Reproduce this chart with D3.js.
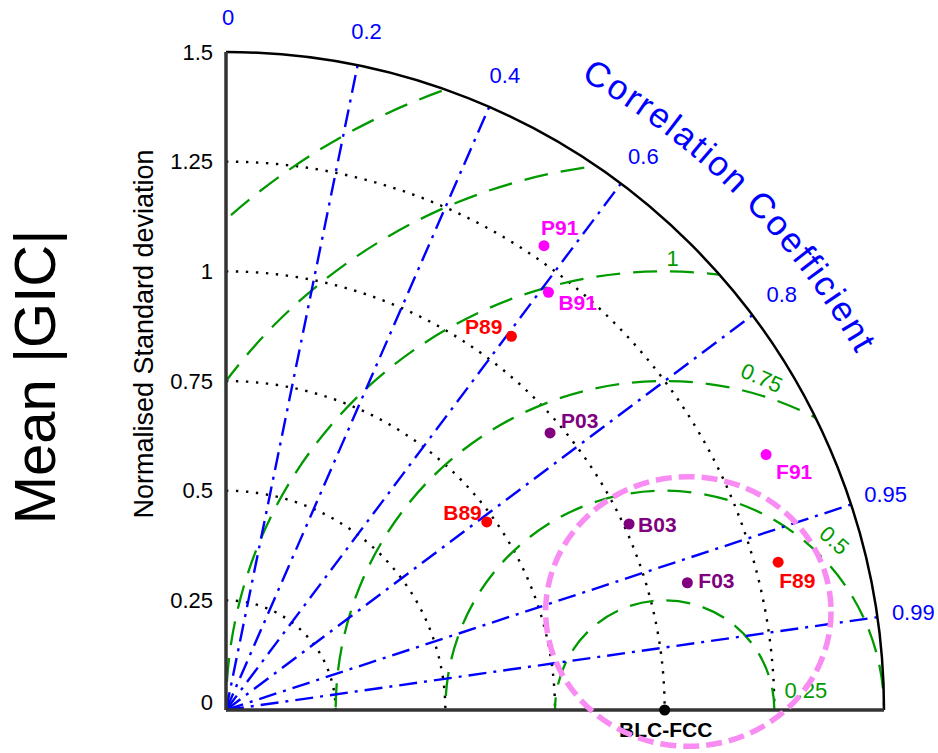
<!DOCTYPE html>
<html>
<head>
<meta charset="utf-8">
<script src="https://cdn.jsdelivr.net/npm/d3@7"></script>
<style>
  body { margin: 0; background: #fff; }
  svg { font-family: "Liberation Sans", Arial, Helvetica, sans-serif; }
</style>
</head>
<body>
<div id="chart"></div>
<script>
// taylor diagram, normalised to the BLC-FCC reference

var models = ["P91", "B91", "P89", "P03", "B03", "F03", "F91", "F89", "B89"];
var years = ["1991", "1991", "1989", "2003", "2003", "2003", "1991", "1989", "1989"];
var stdDev = [1.283, 1.203, 1.072, 0.972, 1.012, 1.091, 1.362, 1.303, 0.733];
var corrCoef = [0.565, 0.611, 0.607, 0.760, 0.908, 0.964, 0.904, 0.966, 0.811];

var refName = "BLC-FCC";
var refStd = 1;

var stdTicks = [0, 0.25, 0.5, 0.75, 1, 1.25, 1.5];
var stdArcs = [0.25, 0.5, 0.75, 1, 1.25];
var corrTicks = [0, 0.2, 0.4, 0.6, 0.8, 0.95, 0.99];
var rmsArcs = [0.25, 0.5, 0.75, 1, 1.25, 1.5];
var rmsLabels = ["0.25", "0.5", "0.75", "1"];

// highlighted region (centre and half-axes in std units)
var highlight = { cx: 1.054, cy: 0.2245, rx: 0.3253, ry: 0.3073 };

var yearColor = { "1989": "#ff0000", "1991": "#ff00ff", "2003": "#800080" };

var width = 938, height = 753;
var ox = 226, oy = 710;

var svg = d3.select("#chart").append("svg")
    .attr("width", width)
    .attr("height", height);

var r = d3.scaleLinear().domain([0, 1.5]).range([0, 658]);
var maxStd = 1.5;

var g = svg.append("g").attr("transform", "translate(" + ox + "," + oy + ")");

//clip for the rms circles
svg.append("defs").append("clipPath").attr("id", "quarter")
    .append("path")
    .attr("d", function() {
        var p = d3.path();
        p.moveTo(0, 0);
        p.lineTo(0, -r(maxStd));
        p.arc(0, 0, r(maxStd), -Math.PI / 2, 0);
        p.closePath();
        return p.toString();
    });

var polar = function polar(s, c) {
    var th = Math.acos(c);
    return [r(s) * Math.cos(th), -r(s) * Math.sin(th)];
};

//std dev dotted arcs
g.selectAll(".stdarc")
    .data(stdArcs)
    .enter().append("path")
    .attr("class", "stdarc")
    .attr("d", function(d) {
        var p = d3.path();
        p.moveTo(0, -r(d));
        p.arc(0, 0, r(d), -Math.PI / 2, 0);
        return p.toString();
    })
    .attr("fill", "none")
    .attr("stroke", "#000")
    .attr("stroke-width", 2.4)
    .attr("stroke-dasharray", "2.4,7.6");

//rms green dashed circles
g.append("g").attr("clip-path", "url(#quarter)")
    .selectAll("circle")
    .data(rmsArcs)
    .enter().append("circle")
    .attr("cx", r(refStd))
    .attr("cy", 0)
    .attr("r", function(d) { return r(d); })
    .attr("fill", "none")
    .attr("stroke", "#009a00")
    .attr("stroke-width", 2.3)
    .attr("stroke-dasharray", "24,13");

//correlation lines
g.selectAll(".corrline")
    .data(corrTicks.filter(function(d) { return d > 0; }))
    .enter().append("line")
    .attr("class", "corrline")
    .attr("x1", 0).attr("y1", 0)
    .attr("x2", function(d) { return polar(maxStd, d)[0]; })
    .attr("y2", function(d) { return polar(maxStd, d)[1]; })
    .attr("stroke", "#0000ff")
    .attr("stroke-width", 2.4)
    .attr("stroke-dasharray", "18,7,3,7");

//outer arc
g.append("path")
    .attr("d", function() {
        var p = d3.path();
        p.moveTo(0, -r(maxStd));
        p.arc(0, 0, r(maxStd), -Math.PI / 2, 0);
        return p.toString();
    })
    .attr("fill", "none")
    .attr("stroke", "#000")
    .attr("stroke-width", 2.5);

//axes
g.append("line").attr("x1", 0).attr("y1", 0).attr("x2", 0).attr("y2", -r(maxStd))
    .attr("stroke", "#333").attr("stroke-width", 3.5);
g.append("line").attr("x1", 0).attr("y1", 0).attr("x2", r(maxStd)).attr("y2", 0)
    .attr("stroke", "#333").attr("stroke-width", 3.5);

//std tick labels
g.selectAll(".stdtick")
    .data(stdTicks)
    .enter().append("text")
    .attr("class", "stdtick")
    .attr("x", -13)
    .attr("y", function(d) { return d == 0 ? -8 : -r(d); })
    .attr("dy", "0.35em")
    .attr("text-anchor", "end")
    .attr("font-size", 22)
    .attr("fill", "#000")
    .text(function(d) { return d3.format("")(d); });

//correlation tick labels
g.selectAll(".corrtick")
    .data(corrTicks)
    .enter().append("text")
    .attr("class", "corrtick")
    .attr("x", function(d) { return polar(maxStd * 1.052, d)[0] + 2; })
    .attr("y", function(d) { return polar(maxStd * 1.052, d)[1]; })
    .attr("dy", "0.35em")
    .attr("text-anchor", "middle")
    .attr("font-size", 22)
    .attr("fill", "#0000ff")
    .text(function(d) { return d; });

//rms labels: angle around the reference point, distance, rotation
var rmsLabelPos = {
    "0.25": { ang: 8, dist: 0.325, rot: 0 },
    "0.5": { ang: 45, dist: 0.547, rot: 42 },
    "0.75": { ang: 73.7, dist: 0.789, rot: 24 },
    "1": { ang: 89, dist: 1.03, rot: 0 }
};
g.selectAll(".rmslabel")
    .data(rmsLabels)
    .enter().append("text")
    .attr("class", "rmslabel")
    .attr("transform", function(d) {
        var p = rmsLabelPos[d], a = p.ang * Math.PI / 180;
        var x = r(refStd + p.dist * Math.cos(a)), y = -r(p.dist * Math.sin(a));
        return "translate(" + x + "," + y + ")rotate(" + p.rot + ")";
    })
    .attr("dy", "0.35em")
    .attr("text-anchor", "middle")
    .attr("font-size", 22)
    .attr("fill", "#009a00")
    .text(function(d) { return d; });

//curved title
svg.append("defs").append("path")
    .attr("id", "corrpath")
    .attr("d", function() {
        var R = 724, a0 = 75 * Math.PI / 180, a1 = 15 * Math.PI / 180;
        return "M" + (ox + R * Math.cos(a0)) + "," + (oy - R * Math.sin(a0)) +
            "A" + R + "," + R + " 0 0 1 " + (ox + R * Math.cos(a1)) + "," + (oy - R * Math.sin(a1));
    });
svg.append("text")
    .attr("font-size", 35)
    .attr("letter-spacing", 2.2)
    .attr("fill", "#0000ff")
    .append("textPath")
    .attr("href", "#corrpath")
    .attr("startOffset", "50%")
    .attr("text-anchor", "middle")
    .text("Correlation Coefficient");

//axis titles
svg.append("text")
    .attr("transform", "translate(153,334)rotate(-90)")
    .attr("text-anchor", "middle")
    .attr("font-size", 27)
    .text("Normalised Standard deviation");

svg.append("text")
    .attr("transform", "translate(55,377)rotate(-90)")
    .attr("text-anchor", "middle")
    .attr("font-size", 58)
    .text("Mean |GIC|");

//model points
var labelOffset = {
    "P91": [-3, -11, "start"], "B91": [10, 18, "start"], "P89": [-9, -2, "end"],
    "P03": [11, -5, "start"], "B03": [9, 8, "start"], "F03": [11, 5, "start"],
    "F91": [10, 24, "start"], "F89": [1, 26, "start"], "B89": [-5, -2, "end"]
};

var pts = models.map(function(m, i) {
    var p = polar(stdDev[i], corrCoef[i]);
    return { name: m, year: years[i], x: p[0], y: p[1] };
});

var pg = g.selectAll(".pt")
    .data(pts)
    .enter().append("g")
    .attr("class", "pt")
    .attr("transform", function(d) { return "translate(" + d.x + "," + d.y + ")"; });

pg.append("circle")
    .attr("r", 5.5)
    .attr("fill", function(d) { return yearColor[d.year]; });

pg.append("text")
    .attr("x", function(d) { return labelOffset[d.name][0]; })
    .attr("y", function(d) { return labelOffset[d.name][1]; })
    .attr("text-anchor", function(d) { return labelOffset[d.name][2]; })
    .attr("font-size", 21)
    .attr("font-weight", "bold")
    .attr("fill", function(d) { return yearColor[d.year]; })
    .text(function(d) { return d.name; });

//reference point
var ref = g.append("g").attr("transform", "translate(" + r(refStd) + ",0)");
ref.append("circle").attr("r", 5.5).attr("fill", "#000");
ref.append("text")
    .attr("x", 1).attr("y", 27)
    .attr("text-anchor", "middle")
    .attr("font-size", 21)
    .attr("font-weight", "bold")
    .text(refName);

//highlight ellipse
g.append("ellipse")
    .attr("cx", r(highlight.cx))
    .attr("cy", -r(highlight.cy))
    .attr("rx", r(highlight.rx))
    .attr("ry", r(highlight.ry))
    .attr("fill", "none")
    .attr("stroke", "#f98cf2")
    .attr("stroke-width", 5.5)
    .attr("stroke-dasharray", "16,7");
</script>
</body>
</html>
